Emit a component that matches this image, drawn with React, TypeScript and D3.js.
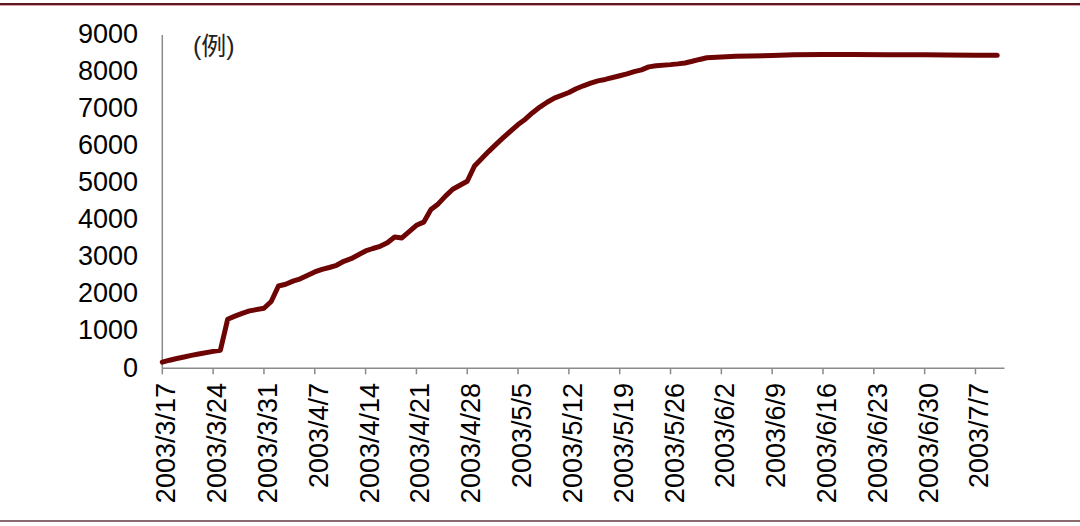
import React from "react";
import * as d3 from "d3";

// ---- data ----
const dates: string[] = [
  "2003/3/17", "2003/3/18", "2003/3/19", "2003/3/20", "2003/3/21", "2003/3/22",
  "2003/3/24", "2003/3/25", "2003/3/26", "2003/3/27", "2003/3/28", "2003/3/29",
  "2003/3/31", "2003/4/1", "2003/4/2", "2003/4/3", "2003/4/4", "2003/4/5",
  "2003/4/7", "2003/4/8", "2003/4/9", "2003/4/10", "2003/4/11", "2003/4/12",
  "2003/4/14", "2003/4/15", "2003/4/16", "2003/4/17", "2003/4/18", "2003/4/19",
  "2003/4/21", "2003/4/22", "2003/4/23", "2003/4/24", "2003/4/25", "2003/4/26",
  "2003/4/28", "2003/4/29", "2003/4/30", "2003/5/1", "2003/5/2", "2003/5/3",
  "2003/5/5", "2003/5/6", "2003/5/7", "2003/5/8", "2003/5/9", "2003/5/10",
  "2003/5/12", "2003/5/13", "2003/5/14", "2003/5/15", "2003/5/16", "2003/5/17",
  "2003/5/19", "2003/5/20", "2003/5/21", "2003/5/22", "2003/5/23", "2003/5/24",
  "2003/5/26", "2003/5/27", "2003/5/28", "2003/5/29", "2003/5/30", "2003/5/31",
  "2003/6/2", "2003/6/4", "2003/6/6", "2003/6/9", "2003/6/12", "2003/6/16",
  "2003/6/20", "2003/6/25", "2003/6/30", "2003/7/3", "2003/7/7", "2003/7/10",
];

const cases: number[] = [
  167, 219, 264, 306, 350, 386,
  456, 487, 1323, 1408, 1485, 1550,
  1622, 1804, 2223, 2270, 2353, 2416,
  2601, 2671, 2722, 2781, 2890, 2960,
  3169, 3235, 3293, 3389, 3545, 3520,
  3861, 3947, 4288, 4439, 4649, 4836,
  5050, 5462, 5663, 5865, 6054, 6234,
  6583, 6727, 6903, 7053, 7183, 7296,
  7447, 7548, 7628, 7699, 7761, 7800,
  7900, 7950, 8010, 8060, 8140, 8170,
  8200, 8220, 8245, 8290, 8340, 8385,
  8405, 8425, 8435, 8445, 8465, 8475,
  8475, 8470, 8465, 8460, 8455, 8450,
];

const xTickLabels: string[] = [
  "2003/3/17", "2003/3/24", "2003/3/31", "2003/4/7", "2003/4/14", "2003/4/21",
  "2003/4/28", "2003/5/5", "2003/5/12", "2003/5/19", "2003/5/26", "2003/6/2",
  "2003/6/9", "2003/6/16", "2003/6/23", "2003/6/30", "2003/7/7",
];

const yTicks: number[] = [0, 1000, 2000, 3000, 4000, 5000, 6000, 7000, 8000, 9000];
const xDomain: string[] = ["2003/3/17", "2003/7/11"];
const unitLabel = "(例)";

const parse = d3.timeParse("%Y/%m/%d");

export default function App() {
  const W = 1080;
  const H = 526;
  const left = 162.3;
  const right = 1004.5;
  const top = 35;
  const bottom = 368.3;

  const x = d3
    .scaleTime()
    .domain([parse(xDomain[0]) as Date, parse(xDomain[1]) as Date])
    .range([left, right]);
  const y = d3.scaleLinear().domain([0, 9000]).range([bottom, top]);

  const pts = dates.map((d, i) => ({ date: parse(d) as Date, v: cases[i] }));
  const line = d3
    .line<{ date: Date; v: number }>()
    .x((d) => x(d.date))
    .y((d) => y(d.v));

  const font = "'Liberation Sans', Arial, 'Noto Sans CJK SC', sans-serif";
  const axisColor = "#8a8a8a";

  return (
    <svg
      width={W}
      height={H}
      style={{ position: "absolute", left: 0, top: 0, background: "#fff" }}
      fontFamily={font}
    >
      <rect x={0} y={0} width={W} height={H} fill="#fff" />
      {/* frame lines */}
      <rect x={0} y={3} width={W} height={2} fill="#5e1a20" />
      <rect x={0} y={5} width={W} height={1} fill="#d9a0a8" />
      <rect x={0} y={520} width={W} height={2} fill="#8a6c70" />

      {/* y axis */}
      <line x1={left} x2={left} y1={top} y2={bottom} stroke={axisColor} strokeWidth={1.5} />
      {yTicks.map((t) => (
        <text
          key={t}
          x={138}
          y={y(t) + 8.2}
          textAnchor="end"
          fontSize={27}
          fill="#000"
        >
          {t}
        </text>
      ))}

      {/* x axis */}
      <line x1={left} x2={right} y1={bottom} y2={bottom} stroke={axisColor} strokeWidth={1.5} />
      {xTickLabels.map((lab) => {
        const tx = x(parse(lab) as Date);
        return (
          <g key={lab}>
            <line x1={tx} x2={tx} y1={bottom} y2={bottom + 6} stroke={axisColor} strokeWidth={1.5} />
            <text
              transform={`translate(${tx + 13},${383}) rotate(-90)`}
              textAnchor="end"
              fontSize={27}
              fill="#000"
            >
              {lab}
            </text>
          </g>
        );
      })}

      {/* unit label */}
      <text x={193} y={55} fontSize={25} fill="#222">
        {unitLabel}
      </text>

      {/* series */}
      <path
        d={line(pts) || ""}
        fill="none"
        stroke="#6e0505"
        strokeWidth={5}
        strokeLinejoin="round"
        strokeLinecap="round"
      />
    </svg>
  );
}
